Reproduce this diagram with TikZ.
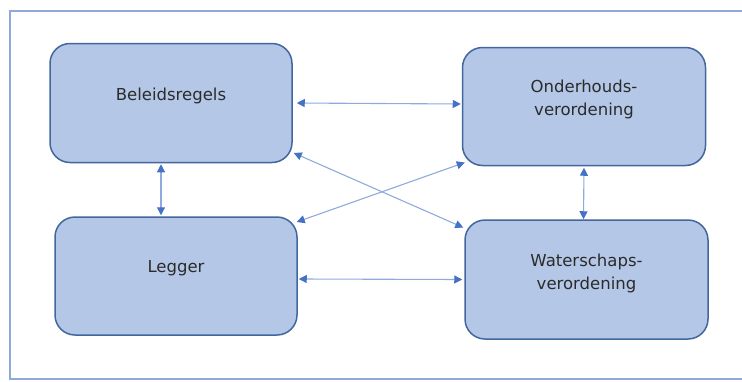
\documentclass[tikz,border=0pt]{standalone}
\usepackage{fontspec}
\setmainfont{DejaVu Sans}
\usetikzlibrary{arrows.meta}
\definecolor{boxfill}{HTML}{B4C7E7}
\definecolor{boxdraw}{HTML}{41679E}
\definecolor{framec}{HTML}{8EAADB}
\definecolor{linec}{HTML}{8FAADC}
\definecolor{tipc}{HTML}{4472C4}
\definecolor{txt}{HTML}{2B2B2B}
\tikzset{
  box/.style={draw=boxdraw, line width=1.5pt, fill=boxfill, rounded corners=20pt, inner sep=0pt},
  lbl/.style={align=center, text=txt, font=\fontsize{16.5}{23}\selectfont, inner sep=0pt},
  arr/.style={draw=linec, line width=1.1pt, {Triangle[length=8pt,width=8pt,color=tipc]}-{Triangle[length=8pt,width=8pt,color=tipc]}}
}
\begin{document}
\begin{tikzpicture}[x=1pt,y=-1pt]
\useasboundingbox (0,0) rectangle (742,381);
\draw[framec, line width=1.5pt] (745,11) -- (10,11) -- (10,379) -- (745,379);
\node[box, minimum width=242pt, minimum height=119pt] (B) at (171,103) {};
\node[box, minimum width=243pt, minimum height=118pt] (O) at (584,106.5) {};
\node[box, minimum width=242pt, minimum height=118pt] (L) at (176,276) {};
\node[box, minimum width=243pt, minimum height=119pt] (W) at (586.5,279.5) {};
\node[lbl] (Bt) at ([yshift=7pt]B.center) {Beleidsregels};
\node[lbl] (Ot) at ([yshift=7pt]O.center) {Onderhouds-\\verordening};
\node[lbl] (Lt) at ([yshift=8pt]L.center) {Legger};
\node[lbl] (Wt) at ([yshift=6.5pt]W.center) {Waterschaps-\\verordening};
\draw[arr] ([xshift=4pt]B.east) -- ([yshift=2.5pt,xshift=-1pt]O.west);
\draw[arr] ([xshift=1pt,yshift=-3pt]L.east) -- ([xshift=-2pt]W.west);
\draw[arr] ([xshift=-10pt,yshift=-1pt]B.south) -- ([xshift=-15pt,yshift=1pt]L.north);
\draw[arr] ([yshift=-1.5pt]O.south) -- ([xshift=-3pt]W.north);
\draw[arr] ([xshift=1pt,yshift=-50pt]B.east) -- ([xshift=-1pt,yshift=52pt]W.west);
\draw[arr] ([xshift=3pt,yshift=-56pt]O.west) -- ([xshift=-1pt,yshift=54pt]L.east);
\end{tikzpicture}
\end{document}
